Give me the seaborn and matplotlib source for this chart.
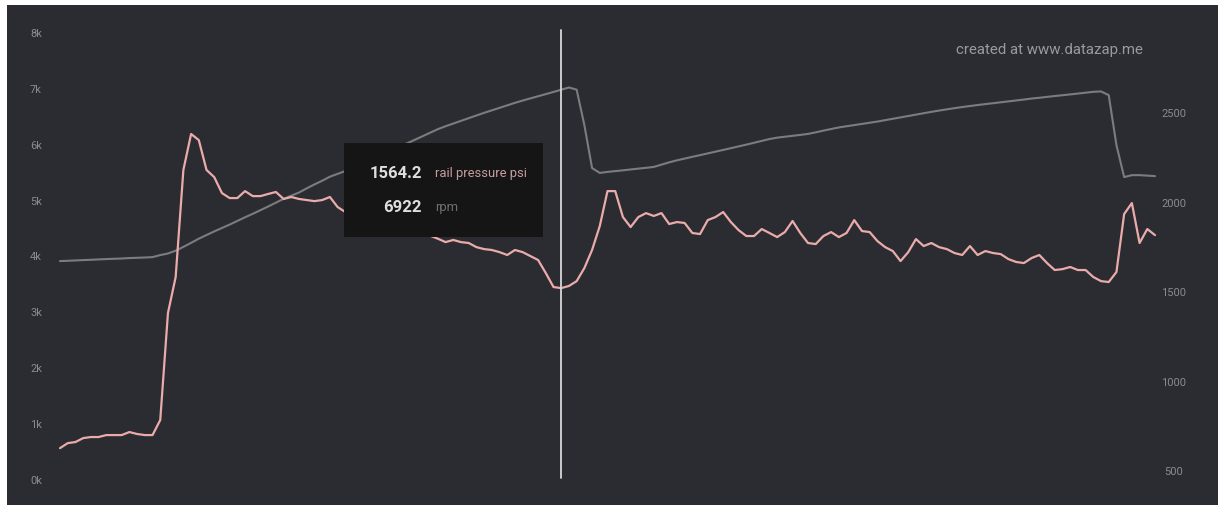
import numpy as np
import pandas as pd
import seaborn as sns
import matplotlib.pyplot as plt
from matplotlib.patches import Rectangle

sns.set_theme(style="dark")
plt.rcParams['font.family'] = ['Roboto', 'DejaVu Sans']

# rpm (left axis)
rpm = [3918, 3923, 3930, 3936, 3941, 3948, 3954, 3959, 3964, 3972,
       3977, 3982, 3989, 4025, 4054, 4104, 4172, 4244, 4319, 4385,
       4449, 4510, 4571, 4637, 4702, 4764, 4829, 4895, 4963, 5032,
       5090, 5145, 5220, 5290, 5356, 5428, 5480, 5530, 5594, 5655,
       5716, 5778, 5839, 5900, 5961, 6024, 6086, 6151, 6215, 6279,
       6331, 6380, 6428, 6476, 6524, 6571, 6616, 6660, 6705, 6750,
       6791, 6829, 6868, 6906, 6945, 6984, 7025, 6986, 6351, 5582,
       5496, 5514, 5528, 5542, 5558, 5573, 5587, 5603, 5644, 5685,
       5721, 5753, 5784, 5814, 5845, 5877, 5907, 5938, 5970, 6002,
       6036, 6068, 6102, 6127, 6143, 6160, 6176, 6194, 6222, 6253,
       6281, 6310, 6331, 6351, 6371, 6392, 6415, 6440, 6465, 6489,
       6514, 6539, 6564, 6589, 6612, 6634, 6655, 6675, 6694, 6711,
       6727, 6743, 6759, 6775, 6791, 6809, 6827, 6841, 6857, 6872,
       6886, 6902, 6916, 6931, 6947, 6954, 6888, 5993, 5421, 5456,
       5456, 5448, 5439]

# rail pressure psi (right axis)
psi = [628, 656, 662, 684, 690, 690, 701, 701, 701, 718,
       707, 701, 701, 785, 1383, 1584, 2182, 2383, 2349, 2182,
       2142, 2053, 2025, 2025, 2064, 2036, 2036, 2048, 2059, 2020,
       2031, 2020, 2014, 2008, 2014, 2031, 1975, 1947, 1930, 1905,
       1893, 1899, 1872, 1860, 1866, 1845, 1838, 1822, 1815, 1798,
       1779, 1791, 1779, 1774, 1751, 1740, 1735, 1723, 1707, 1735,
       1723, 1701, 1679, 1606, 1528, 1522, 1534, 1561, 1634, 1735,
       1869, 2064, 2064, 1919, 1863, 1919, 1941, 1925, 1941, 1880,
       1891, 1886, 1830, 1824, 1902, 1919, 1947, 1891, 1846, 1813,
       1813, 1852, 1830, 1807, 1835, 1897, 1830, 1774, 1768, 1813,
       1835, 1807, 1830, 1902, 1841, 1835, 1785, 1751, 1729, 1673,
       1723, 1796, 1757, 1774, 1751, 1740, 1718, 1707, 1757, 1707,
       1729, 1718, 1712, 1684, 1668, 1662, 1690, 1707, 1662, 1623,
       1628, 1640, 1623, 1623, 1584, 1561, 1556, 1612, 1936, 1997,
       1774, 1852, 1818]

left_ticks = [0, 1000, 2000, 3000, 4000, 5000, 6000, 7000, 8000]
left_labels = ['0k', '1k', '2k', '3k', '4k', '5k', '6k', '7k', '8k']
right_ticks = [500, 1000, 1500, 2000, 2500]

hover_idx = 65
hover_psi = '1564.2'
hover_rpm = '6922'

BG = '#2b2c31'
PINK = '#eaabab'
GRAY = '#7c7c7f'
TICK = '#8a8b8f'

df = pd.DataFrame({'t': np.arange(len(rpm)), 'rpm': rpm, 'psi': psi})

W, H = 1218, 505
fig = plt.figure(figsize=(W / 100, H / 100), dpi=100, facecolor='white')
fig.patches.append(Rectangle((7 / W, 0), 1 - 7 / W, 1 - 5 / H, transform=fig.transFigure,
                             facecolor=BG, edgecolor='none', zorder=-10))

ax = fig.add_axes([50 / W, 25 / H, 1110 / W, 447 / H])
ax.set_facecolor('none')
sns.lineplot(data=df, x='t', y='rpm', ax=ax, color=GRAY, linewidth=1.5)
ax2 = ax.twinx()
sns.lineplot(data=df, x='t', y='psi', ax=ax2, color=PINK, linewidth=1.6)

n = len(rpm) - 1
step = 1095 / n
ax.set_xlim(-10 / step, n + 5 / step)
ax.set_ylim(0, 8000)
ax2.set_ylim(450, 450 + 447 / 89.5 * 500)

ax.set_yticks(left_ticks)
ax.set_yticklabels(left_labels)
ax2.set_yticks(right_ticks)
ax.set_xticks([])
for a in (ax, ax2):
    a.set_xlabel('')
    a.set_ylabel('')
    a.grid(False)
    for s in a.spines.values():
        s.set_visible(False)
ax.tick_params(axis='y', length=0, pad=5.8, labelsize=8, labelcolor=TICK)
ax2.tick_params(axis='y', length=0, pad=10, labelsize=8, labelcolor=TICK)
for lab in ax2.get_yticklabels():
    lab.set_horizontalalignment('center')

# hover line
ax2.axvline(hover_idx, ymin=2 / 447, ymax=450 / 447, color='#d8d8d8', linewidth=1.3,
            zorder=5, clip_on=False)

# tooltip
fig.patches.append(Rectangle((344 / W, 1 - 237 / H), 199 / W, 94 / H, transform=fig.transFigure,
                             facecolor='#151515', edgecolor='none', zorder=10))
fig.text(422 / W, 1 - 173 / H, hover_psi, ha='right', va='center', fontsize=12,
         fontweight='bold', color='#dedede', zorder=11)
fig.text(435 / W, 1 - 173 / H, 'rail pressure psi', ha='left', va='center', fontsize=9.4,
         color='#c99d9d', zorder=11)
fig.text(422 / W, 1 - 208 / H, hover_rpm, ha='right', va='center', fontsize=12,
         fontweight='bold', color='#dedede', zorder=11)
fig.text(435 / W, 1 - 208 / H, 'rpm', ha='left', va='center', fontsize=9.4,
         color='#6f6f72', zorder=11)

fig.text(1143 / W, 1 - 50 / H, 'created at www.datazap.me', ha='right', va='center',
         fontsize=10.8, color='#9a9a9d')

plt.savefig('out.png', dpi=100, facecolor=fig.get_facecolor())
